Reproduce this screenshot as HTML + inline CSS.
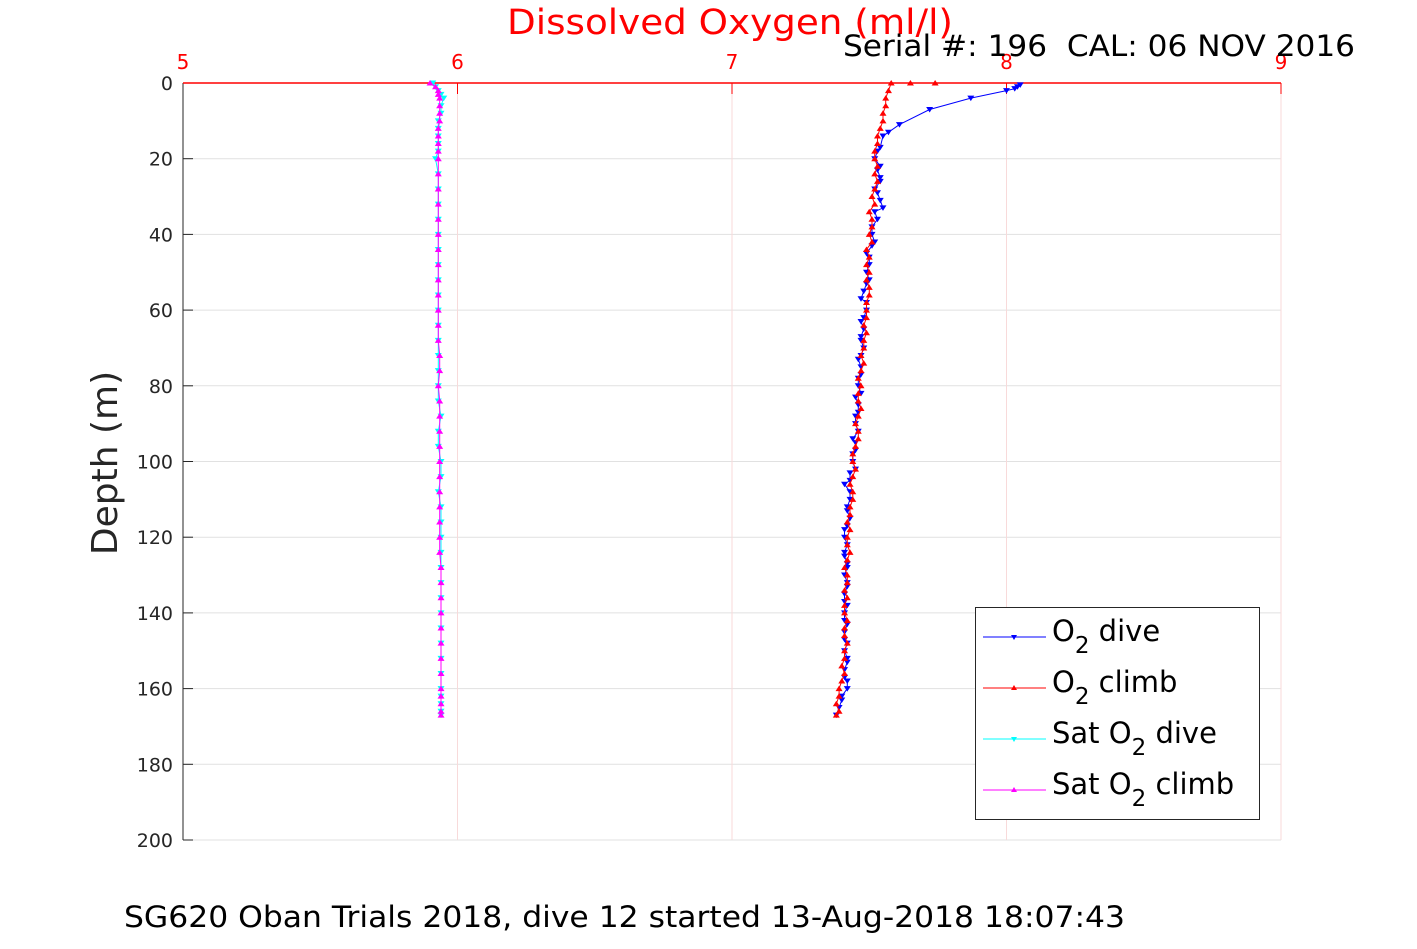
<!DOCTYPE html>
<html><head><meta charset="utf-8"><style>
body{margin:0;background:#fff;width:1417px;height:945px;overflow:hidden;font-family:"DejaVu Sans","Liberation Sans",sans-serif}
</style></head><body>
<svg id="chart" width="1417" height="945" xmlns="http://www.w3.org/2000/svg" font-family="DejaVu Sans, Liberation Sans, sans-serif">
<g id="grid"></g>
<g id="axes"></g>
<g id="series"></g>
<text x="507" y="34" font-size="35" fill="#ff0000" textLength="446" lengthAdjust="spacingAndGlyphs">Dissolved Oxygen (ml/l)</text>
<text x="843" y="56" font-size="29" fill="#000" textLength="512" lengthAdjust="spacingAndGlyphs" xml:space="preserve">Serial #: 196  CAL: 06 NOV 2016</text>
<text transform="translate(117,463) rotate(-90)" font-size="36" fill="#262626" text-anchor="middle">Depth (m)</text>
<text x="124" y="927" font-size="29" fill="#000" textLength="1001" lengthAdjust="spacingAndGlyphs">SG620 Oban Trials 2018, dive 12 started 13-Aug-2018 18:07:43</text>
<g>
<rect x="975.5" y="607.5" width="284" height="212" fill="#fff" stroke="#262626" stroke-width="1"/>
<g><line x1="983" y1="637" x2="1046" y2="637" stroke="#0000ff"/><path d="M1011,635 L1017,635 L1014,640Z" fill="#0000ff"/><text x="1052" y="641" font-size="29">O<tspan font-size="23" dy="12">2</tspan><tspan dy="-12"> dive</tspan></text></g>
<g><line x1="983" y1="688" x2="1046" y2="688" stroke="#ff0000"/><path d="M1011,690 L1017,690 L1014,685Z" fill="#ff0000"/><text x="1052" y="692" font-size="29">O<tspan font-size="23" dy="12">2</tspan><tspan dy="-12"> climb</tspan></text></g>
<g><line x1="983" y1="739" x2="1046" y2="739" stroke="#00ffff"/><path d="M1011,737 L1017,737 L1014,742Z" fill="#00ffff"/><text x="1052" y="743" font-size="29">Sat O<tspan font-size="23" dy="12">2</tspan><tspan dy="-12"> dive</tspan></text></g>
<g><line x1="983" y1="790" x2="1046" y2="790" stroke="#ff00ff"/><path d="M1011,792 L1017,792 L1014,787Z" fill="#ff00ff"/><text x="1052" y="794" font-size="29">Sat O<tspan font-size="23" dy="12">2</tspan><tspan dy="-12"> climb</tspan></text></g>
</g>
</svg>
<script>
const xTicks=[5,6,7,8,9];
const yTicks=[0,20,40,60,80,100,120,140,160,180,200];
const diveDepth=[0.5,1,1.5,2,4,7,11,13,14,17,18,20,22,23,25,26,28,29,31,33,34,36,38,40,42,43,45,46,48,50,52,53,55,57,58,60,62,63,65,67,68,70,72,73,75,77,78,80,82,83,85,87,88,90,92,94,95,97,98,100,102,103,105,106,108,110,112,113,115,117,118,120,122,124,125,127,128,130,132,133,135,137,138,140,142,143,145,147,148,150,152,153,155,157,158,160,162,163,165,167];
const o2Dive=[8.05,8.04,8.03,8.0,7.87,7.72,7.61,7.57,7.55,7.54,7.53,7.52,7.54,7.53,7.54,7.54,7.52,7.53,7.54,7.55,7.52,7.53,7.51,7.51,7.52,7.51,7.49,7.5,7.5,7.49,7.5,7.49,7.48,7.47,7.49,7.49,7.48,7.47,7.48,7.47,7.47,7.48,7.47,7.46,7.47,7.47,7.46,7.46,7.47,7.45,7.46,7.46,7.45,7.45,7.46,7.44,7.45,7.45,7.44,7.44,7.45,7.43,7.43,7.41,7.43,7.43,7.42,7.42,7.43,7.42,7.41,7.41,7.42,7.41,7.41,7.42,7.42,7.41,7.42,7.42,7.41,7.41,7.42,7.41,7.41,7.42,7.41,7.41,7.42,7.41,7.42,7.42,7.41,7.41,7.42,7.42,7.4,7.4,7.39,7.38];
const climbDepth=[0,0,0,2,4,6,8,10,12,14,16,18,20,22,24,26,28,30,32,34,36,38,40,42,44,46,48,50,52,54,56,58,60,62,64,66,68,70,72,74,76,78,80,82,84,86,88,90,92,94,96,98,100,102,104,106,108,110,112,114,116,118,120,122,124,126,128,130,132,134,136,138,140,142,144,146,148,150,152,154,156,158,160,162,164,166,167];
const o2Climb=[7.74,7.65,7.58,7.57,7.56,7.56,7.55,7.55,7.54,7.53,7.53,7.52,7.52,7.53,7.52,7.53,7.52,7.51,7.52,7.5,7.51,7.51,7.5,7.51,7.49,7.5,7.49,7.5,7.49,7.5,7.5,7.49,7.49,7.49,7.48,7.49,7.48,7.48,7.47,7.48,7.47,7.46,7.47,7.46,7.46,7.47,7.46,7.45,7.46,7.46,7.45,7.44,7.44,7.45,7.44,7.43,7.44,7.44,7.43,7.43,7.42,7.43,7.42,7.42,7.43,7.42,7.41,7.42,7.42,7.41,7.42,7.41,7.41,7.42,7.41,7.41,7.42,7.41,7.41,7.4,7.41,7.4,7.39,7.39,7.38,7.39,7.38];
const satDepth=[0,1,2,3,4,6,8,10,12,14,16,18,20,24,28,32,36,40,44,48,52,56,60,64,68,72,76,80,84,88,92,96,100,104,108,112,116,120,124,128,132,136,140,144,148,152,156,160,162,164,166,167];
const satDive=[5.91,5.92,5.93,5.94,5.95,5.94,5.94,5.93,5.93,5.93,5.93,5.93,5.92,5.93,5.93,5.93,5.93,5.93,5.93,5.93,5.93,5.93,5.93,5.93,5.93,5.93,5.93,5.93,5.93,5.94,5.93,5.93,5.94,5.94,5.93,5.94,5.94,5.94,5.94,5.94,5.94,5.94,5.94,5.94,5.94,5.94,5.94,5.94,5.94,5.94,5.94,5.94];
const satClimb=[5.9,5.92,5.93,5.93,5.935,5.935,5.935,5.935,5.93,5.93,5.93,5.93,5.93,5.93,5.93,5.93,5.93,5.93,5.93,5.93,5.93,5.93,5.93,5.93,5.93,5.935,5.935,5.93,5.935,5.935,5.935,5.935,5.935,5.935,5.935,5.935,5.935,5.935,5.935,5.94,5.94,5.94,5.94,5.94,5.94,5.94,5.94,5.94,5.94,5.94,5.94,5.94];
const L=183,R=1281,T=83,B=840;
const xs=v=>L+(v-5)/4*(R-L);
const ys=d=>T+d/200*(B-T);
const NS='http://www.w3.org/2000/svg';
function mk(tag,attrs,parent){const e=document.createElementNS(NS,tag);for(const k in attrs)e.setAttribute(k,attrs[k]);parent.appendChild(e);return e;}
const grid=document.getElementById('grid'),axes=document.getElementById('axes'),ser=document.getElementById('series');
yTicks.forEach(t=>{const l=mk('line',{x1:L,x2:R,y1:ys(t),y2:ys(t),stroke:'#e1e1e1'},grid);


const tx=mk('text',{x:L-10,y:ys(t)+7,'font-size':19,'text-anchor':'end',fill:'#262626'},axes);tx.textContent=t;


mk('line',{x1:L,x2:L+10,y1:ys(t),y2:ys(t),stroke:'#262626'},axes);});
xTicks.forEach(t=>{const l=mk('line',{x1:xs(t),x2:xs(t),y1:T,y2:B,stroke:'#f8dada'},grid);


const tx=mk('text',{x:xs(t),y:T-14,'font-size':20,'text-anchor':'middle',fill:'#ff0000'},axes);tx.textContent=t;


mk('line',{x1:xs(t),x2:xs(t),y1:T,y2:T+11,stroke:'#ff0000'},axes);});
mk('line',{x1:L,x2:L,y1:T,y2:B,stroke:'#262626'},axes);
mk('line',{x1:L,x2:R,y1:T,y2:T,stroke:'#ff0000','stroke-width':1.5},axes);
function series(depths,vals,color,down,name){
const g=mk('g',{},ser);


const pts=vals.map((v,i)=>xs(v).toFixed(1)+','+ys(depths[i]).toFixed(1)).join(' ');
mk('polyline',{points:pts,fill:'none',stroke:color,'stroke-width':1},g);
vals.forEach((v,i)=>{const x=xs(v),y=ys(depths[i]);
const d=down?`M${x-3.5},${y-2.5} L${x+3.5},${y-2.5} L${x},${y+3}Z`:`M${x-3.5},${y+2.5} L${x+3.5},${y+2.5} L${x},${y-3}Z`;
const m=mk('path',{d:d,fill:color},g);

});}
series(satDepth,satDive,'#00ffff',true,'sat-o2-dive-series');
series(satDepth,satClimb,'#ff00ff',false,'sat-o2-climb-series');
series(diveDepth,o2Dive,'#0000ff',true,'o2-dive-series');
series(climbDepth,o2Climb,'#ff0000',false,'o2-climb-series');
</script>
</body></html>
